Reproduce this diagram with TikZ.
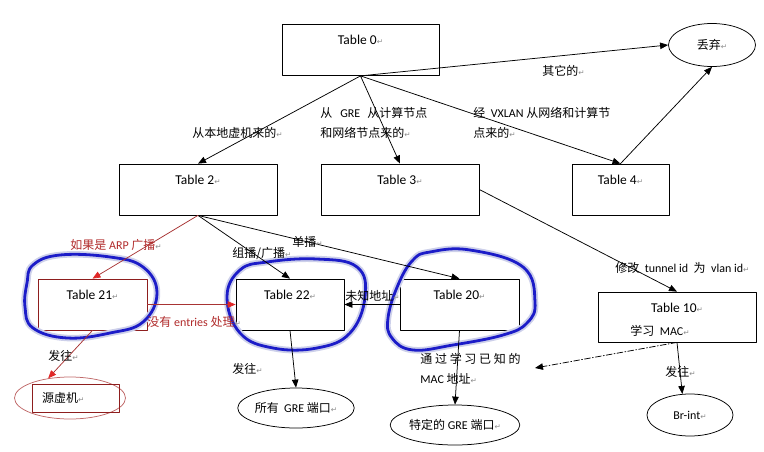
\documentclass[tikz,border=0pt]{standalone}
\usepackage{fontspec}
\setmainfont{Carlito}
\newfontfamily\cjk{Noto Sans CJK SC}
\newfontfamily\symfont{DejaVu Sans}
\usetikzlibrary{arrows.meta, shapes.geometric, positioning}

\definecolor{inkred}{HTML}{A83434}
\definecolor{tipred}{HTML}{E02828}
\definecolor{textred}{HTML}{B02A2A}
\definecolor{boxred}{HTML}{8E1E1E}
\definecolor{ovalred}{HTML}{C06A6A}
\definecolor{penblue}{HTML}{1C1CC8}
\definecolor{glowblue}{HTML}{CDD0EA}
\definecolor{markgray}{HTML}{8A8A8A}

\newcommand{\zh}[1]{{\cjk #1}}
\newcommand{\pmark}{{\symfont\fontsize{7.5}{7.5}\selectfont\color{markgray}↵}}

\tikzset{
  tbl/.style={draw, inner sep=0pt, minimum height=51pt, text height=20pt, text depth=31pt,
    font=\fontsize{13.5}{15}\selectfont},
  oval/.style={draw, ellipse, inner sep=0pt, font=\fontsize{12}{14}\selectfont},
  lbl/.style={inner sep=0pt, anchor=west, align=left, font=\fontsize{12}{20}\selectfont},
  redarrow/.style={draw=inkred, -{Triangle[length=8pt,width=6.5pt,color=tipred]}},
  pen/.style={draw=penblue, line width=2.8pt, preaction={draw=glowblue, line width=6.5pt}}
}

\begin{document}
\begin{tikzpicture}[x=1pt, y=-1pt, line cap=round, line join=round, line width=0.75pt,
  >={Triangle[length=8pt,width=6.5pt]}]
\useasboundingbox (0,0) rectangle (764,451);

% flow tables
\node[tbl, minimum width=157pt] (t0) at (360.5,50) {Table 0\pmark};
\node[tbl, minimum width=158pt] (t2) at (198,189.5) {Table 2\pmark};
\node[tbl, minimum width=158pt] (t3) at (400,189.5) {Table 3\pmark};
\node[tbl, minimum width=97pt] (t4) at (620.5,189.5) {Table 4\pmark};
\node[tbl, draw=boxred, minimum width=109pt] (t21) at (92.5,304.5) {Table 21\pmark};
\node[tbl, minimum width=108pt] (t22) at (290,304.5) {Table 22\pmark};
\node[tbl, minimum width=119pt] (t20) at (459.5,304.5) {Table 20\pmark};
\node[tbl, minimum width=158pt, minimum height=50pt, text depth=30pt] (t10) at (677,317) {Table 10\pmark};
\node[lbl] (t10mac) at (630,331) {\zh{学习}\ \ MAC\pmark};

% end points
\node[oval, minimum width=87pt, minimum height=43pt] (drop) at (712,45) {\zh{丢弃}\pmark};
\node[oval, minimum width=86pt, minimum height=42pt] (brint) at (690,415) {Br-int\pmark};
\node[oval, minimum width=111pt, minimum height=40pt] (gre1) at (455,425) {\zh{特定的} GRE \zh{端口}\pmark};
\node[oval, minimum width=110pt, minimum height=40pt] (gre2) at (296,408) {\zh{所有}\ \ GRE \zh{端口}\pmark};
\node[oval, draw=ovalred, minimum width=111pt, minimum height=42pt] (vm) at (70,398) {};
\node[draw=boxred, inner sep=0pt, minimum width=87pt, minimum height=28pt, text width=67pt,
  align=left, font=\fontsize{12}{14}\selectfont] (vmbox) at (75.5,398) {\zh{源虚机}\pmark};
\coordinate (known) at (535,368);

% hand drawn marks
\draw[pen] plot[smooth cycle, tension=0.7] coordinates {(33,265) (60,255) (110,257) (143,267) (157,293)
  (143,322) (110,333) (67,338) (33,328) (25,307) (27,283)};
\draw[pen] plot[smooth cycle, tension=0.7] coordinates {(227,297) (240,270) (267,262) (317,259) (357,267)
  (365,297) (350,333) (317,348) (273,348) (240,333)};
\draw[pen] plot[smooth cycle, tension=0.7] coordinates {(413,260) (430,252) (470,250) (523,267) (535,302)
  (527,323) (503,335) (453,345) (413,350) (392,338) (388,318) (398,285)};

% connectors
\draw[->] (t0.south) -- (t2.north);
\draw[->] (t0.south) -- (t3.north);
\draw[->] (t0.south) -- (t4.north);
\draw[->] (t0.south) -- (drop.west);
\draw[->] (t4.north) -- (drop.south);
\draw[->] (t3.east) -- (t10.north);
\draw[->] (t2.south) -- (t22.north);
\draw[->] (t2.south) -- (t20.north);
\draw[->] (t20.west) -- (t22.east);
\draw[->] (t22.south) -- (gre2.north);
\draw[->] (t20.south) -- (gre1.north);
\draw[->] (t10.south) -- (brint.110);
\draw[->, dash pattern=on 6pt off 2pt on 1pt off 2pt] (t10.south) -- (known);
\draw[redarrow] (t2.south) -- (t21.north);
\draw[redarrow] (t21.east) -- (t22.west);
\draw[redarrow] (t21.south) -- (vm.138);

% labels
\node[lbl] (l-other) at (542,71) {\zh{其它的}\pmark};
\node[lbl] (l-local) at (192,133) {\zh{从本地虚机来的}\pmark};
\node[lbl] (l-gre) at (320,123) {\zh{从}\hspace{8pt}GRE\hspace{7pt}\zh{从计算节点}\\\zh{和网络节点来的}\pmark};
\node[lbl] (l-vxlan) at (473,123) {\zh{经}\ \ VXLAN \zh{从网络和计算节}\\\zh{点来的}\pmark};
\node[lbl] (l-tunnel) at (615,268) {\zh{修改}\ \ tunnel id\ \ \zh{为}\ \ vlan id\pmark};
\node[lbl] (l-tobr) at (665,372) {\zh{发往}\pmark};
\node[lbl] (l-known) at (420,369) {\zh{通 过 学 习 已 知 的}\\MAC \zh{地址}\pmark};
\node[lbl] (l-unknown) at (345,296) {\zh{未知地址}\pmark};
\node[lbl] (l-toall) at (232,369) {\zh{发往}\pmark};
\node[lbl] (l-multi) at (232,254) {\zh{组播/广播}\pmark};
\node[lbl] (l-uni) at (292,242) {\zh{单播}\pmark};
\node[lbl, text=textred] (l-arp) at (70,245) {\zh{如果是} ARP \zh{广播}\pmark};
\node[lbl, text=textred] (l-noent) at (147,322) {\zh{没有} entries \zh{处理}\pmark};
\node[lbl] (l-tovm) at (48,356) {\zh{发往}\pmark};
\end{tikzpicture}
\end{document}
